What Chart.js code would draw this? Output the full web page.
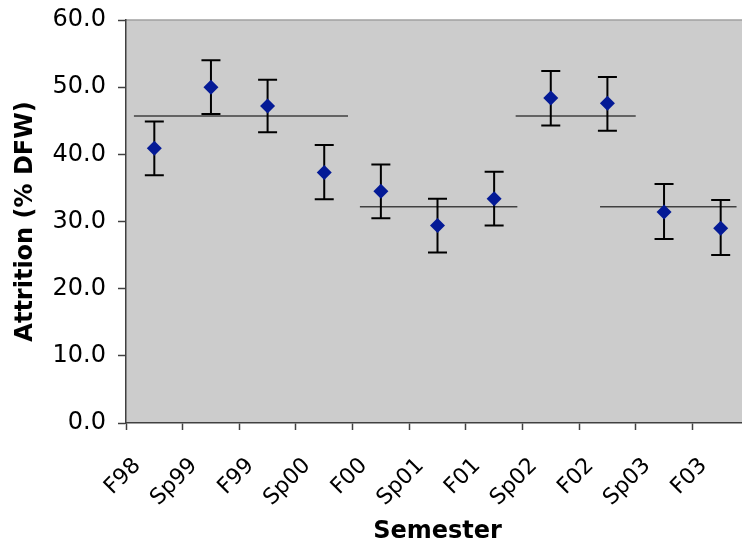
<!DOCTYPE html>
<html>
<head>
<meta charset="utf-8">
<script src="https://cdn.jsdelivr.net/npm/chart.js@4/dist/chart.umd.min.js"></script>
<style>
  html, body { margin: 0; background: #fff; }
  canvas { display: block; }
</style>
</head>
<body>
<canvas id="myChart" width="742" height="543"></canvas>
<script>
var semesters = ['F98', 'Sp99', 'F99', 'Sp00', 'F00', 'Sp01', 'F01', 'Sp02', 'F02', 'Sp03', 'F03'];
var attrition = [40.9, 50.0, 47.2, 37.3, 34.5, 29.4, 33.4, 48.4, 47.6, 31.4, 29.0];
var errPlus  = [4.0, 4.0, 3.9, 4.1, 4.0, 4.0, 4.0, 4.0, 3.9, 4.2, 4.2];
var errMinus = [4.0, 4.0, 3.9, 4.0, 4.0, 4.0, 4.0, 4.1, 4.1, 4.0, 4.0];
// mean lines: level and extent in category index units
var meanLevel = [45.7, 32.2, 45.7, 32.2];
var meanFrom  = [-0.36, 3.63, 6.38, 7.87];
var meanTo    = [3.42, 6.41, 8.50, 10.28];
var yTicks = [0, 10, 20, 30, 40, 50, 60];

const FONT = "'DejaVu Sans', Verdana, sans-serif";
const axisColor = '#404040';

const meanSets = [];
for (let i = 0; i < meanLevel.length; i++) {
  meanSets.push({
    type: 'line',
    xAxisID: 'x2',
    data: [{x: meanFrom[i], y: meanLevel[i]}, {x: meanTo[i], y: meanLevel[i]}],
    borderColor: '#404040',
    borderWidth: 1.5,
    pointRadius: 0,
    fill: false,
    order: 2
  });
}

// the plot area runs a little past the right edge of the picture
const extendRight = {
  id: 'extendRight',
  afterLayout(chart) {
    const extra = 7;
    chart.chartArea.right += extra;
    chart.chartArea.width += extra;
    ['x', 'x2'].forEach(id => {
      const s = chart.scales[id];
      s.right += extra;
      s.width += extra;
      s.configure();
    });
  }
};

const plotBg = {
  id: 'plotBg',
  beforeDraw(chart) {
    const a = chart.chartArea, c = chart.ctx;
    c.save();
    c.fillStyle = '#cccccc';
    c.fillRect(a.left, a.top, a.right - a.left, a.bottom - a.top);
    c.strokeStyle = '#a0a0a0';
    c.lineWidth = 1.5;
    c.beginPath();
    c.moveTo(a.left, a.top);
    c.lineTo(a.right, a.top);
    c.stroke();
    c.restore();
  }
};

const errorBars = {
  id: 'errorBars',
  beforeDatasetDraw(chart, args) {
    if (args.index !== 0) return;
    const c = chart.ctx, x = chart.scales.x, y = chart.scales.y;
    c.save();
    c.strokeStyle = '#000';
    c.lineWidth = 2;
    for (let i = 0; i < attrition.length; i++) {
      const px = x.getPixelForValue(i);
      const top = y.getPixelForValue(attrition[i] + errPlus[i]);
      const bot = y.getPixelForValue(attrition[i] - errMinus[i]);
      c.beginPath();
      c.moveTo(px, top); c.lineTo(px, bot);
      c.moveTo(px - 9.5, top); c.lineTo(px + 9.5, top);
      c.moveTo(px - 9.5, bot); c.lineTo(px + 9.5, bot);
      c.stroke();
    }
    c.restore();
  }
};

new Chart(document.getElementById('myChart'), {
  type: 'line',
  data: {
    labels: semesters,
    datasets: [{
      data: attrition,
      showLine: false,
      pointStyle: 'rectRot',
      pointRadius: 7.5,
      pointHoverRadius: 7.5,
      pointBackgroundColor: '#041a96',
      pointBorderColor: '#041a96',
      pointBorderWidth: 0,
      order: 1
    }].concat(meanSets)
  },
  options: {
    responsive: false,
    animation: false,
    layout: { autoPadding: false, padding: { top: 20, right: 0, left: 0, bottom: 0 } },
    plugins: { legend: { display: false }, tooltip: { enabled: false } },
    scales: {
      x: {
        type: 'category',
        offset: true,
        grid: { offset: true, drawOnChartArea: false, drawTicks: true, tickLength: 7, tickColor: axisColor, tickWidth: 1.5 },
        border: { color: axisColor, width: 1.5 },
        ticks: { autoSkip: false, minRotation: 45, maxRotation: 45, color: '#000', padding: 23, labelOffset: -17, font: { family: FONT, size: 22 } },
        title: { display: true, text: 'Semester', color: '#000', padding: { top: 0, bottom: -3 }, font: { family: FONT, size: 24, weight: 'bold' } },
        afterFit(scale) { scale.height = 120; scale.paddingLeft = 0; scale.paddingRight = 0; }
      },
      x2: { type: 'linear', display: false, min: -0.5, max: 10.5 },
      y: {
        min: 0, max: 60,
        afterBuildTicks(scale) { scale.ticks = yTicks.map(v => ({value: v})); },
        grid: { drawOnChartArea: false, drawTicks: true, tickLength: 8, tickColor: axisColor, tickWidth: 1.5 },
        border: { color: axisColor, width: 1.5 },
        ticks: { color: '#000', padding: 12, font: { family: FONT, size: 24 }, callback: v => v.toFixed(1) },
        title: { display: true, text: 'Attrition (% DFW)', color: '#000', padding: { top: 11, bottom: 0 }, font: { family: FONT, size: 24, weight: 'bold' } },
        afterFit(scale) { scale.width = 126; scale.paddingTop = 0; scale.paddingBottom = 0; }
      }
    }
  },
  plugins: [extendRight, plotBg, errorBars]
});
</script>
</body>
</html>
